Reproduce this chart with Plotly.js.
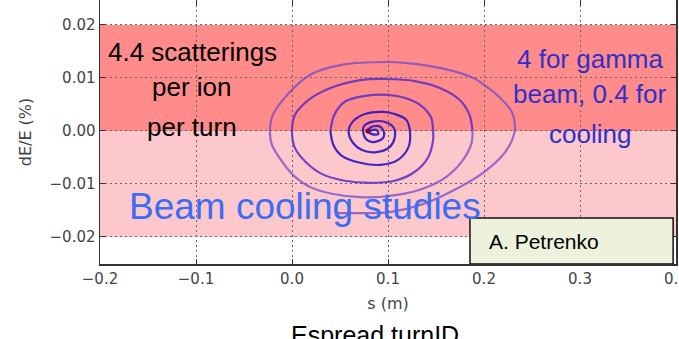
<!DOCTYPE html>
<html>
<head>
<meta charset="utf-8">
<script src="https://cdn.plot.ly/plotly-3.0.1.min.js"></script>
<style>html,body{margin:0;padding:0;background:#fff;overflow:hidden}#chart{width:679px;height:339px}</style>
</head>
<body>
<div id="chart"></div>
<script>
// Phase-space trajectory: s (m) and dE/E (%)
const sValues = [
  0.045, 0.071, 0.102, 0.133, 0.165, 0.199, 0.222, 0.232,
  0.229, 0.217, 0.203, 0.189, 0.154, 0.120, 0.100, 0.053, 0.019, -0.005, -0.020, -0.023,
  -0.021, -0.013, 0.001, 0.019, 0.043, 0.071, 0.100, 0.133, 0.159, 0.178, 0.187, 0.188,
  0.185, 0.175, 0.154, 0.128, 0.100, 0.071, 0.040, 0.017, 0.003, 0.000,
  0.003, 0.014, 0.031, 0.055, 0.081, 0.107, 0.128, 0.142, 0.147, 0.147,
  0.145, 0.135, 0.118, 0.100, 0.076, 0.055, 0.044, 0.040,
  0.043, 0.052, 0.071, 0.092, 0.110, 0.121, 0.123,
  0.119, 0.107, 0.095, 0.076, 0.064, 0.059,
  0.063, 0.073, 0.088, 0.102, 0.107, 0.106, 0.097, 0.083, 0.075, 0.074,
  0.077, 0.084, 0.094, 0.096, 0.092, 0.083, 0.079, 0.083, 0.090, 0.088, 0.081
];
const dEValues = [
  -0.0155, -0.0155, -0.0153, -0.0140, -0.0115, -0.0079, -0.0040, 0.0000,
  0.0036, 0.0062, 0.0083, 0.0100, 0.0119, 0.0128, 0.0130, 0.0125, 0.0106, 0.0068, 0.0030, 0.0000,
  -0.0026, -0.0051, -0.0083, -0.0106, -0.0119, -0.0125, -0.0123, -0.0111, -0.0089, -0.0055, -0.0023, 0.0000,
  0.0030, 0.0058, 0.0081, 0.0094, 0.0098, 0.0096, 0.0081, 0.0058, 0.0030, 0.0000,
  -0.0032, -0.0058, -0.0081, -0.0094, -0.0098, -0.0094, -0.0077, -0.0049, -0.0017, 0.0000,
  0.0025, 0.0047, 0.0062, 0.0068, 0.0066, 0.0055, 0.0030, 0.0000,
  -0.0026, -0.0047, -0.0060, -0.0064, -0.0055, -0.0032, -0.0004,
  0.0021, 0.0032, 0.0036, 0.0032, 0.0019, 0.0000,
  -0.0021, -0.0036, -0.0040, -0.0030, -0.0013, 0.0006, 0.0017, 0.0017, 0.0009, 0.0000,
  -0.0015, -0.0021, -0.0015, -0.0004, 0.0008, 0.0008, 0.0000, -0.0006, -0.0006, 0.0002, 0.0000
];
const centerS = [0.079];
const centerDE = [0.0];

const xTicks = [-0.2, -0.1, 0.0, 0.1, 0.2, 0.3, 0.4];
const yTicks = [-0.02, -0.01, 0.00, 0.01, 0.02];

const bandHeating = [0.0, 0.02];
const bandCooling = [-0.02, 0.0];

const leftLines = ['4.4 scatterings', 'per ion', 'per turn'];
const leftLineY = [0.0148, 0.0082, 0.0007];
const rightLines = ['4 for gamma', 'beam, 0.4 for', 'cooling'];
const rightLineY = [0.0136, 0.0069, -0.0005];

// split trajectory into segments, outer lighter, inner darker
const splits = [0, 31, 59, sValues.length - 1];
const segColors = ['rgba(118,72,200,0.75)', 'rgba(96,48,196,0.88)', 'rgba(56,28,192,0.95)'];
const traces = [];
for (let i = 0; i < 3; i++) {
  traces.push({
    x: sValues.slice(splits[i], splits[i + 1] + 1),
    y: dEValues.slice(splits[i], splits[i + 1] + 1),
    type: 'scatter', mode: 'lines',
    line: {color: segColors[i], width: 2.2, shape: 'spline', smoothing: 0.9},
    hoverinfo: 'skip', showlegend: false
  });
}
traces.push({
  x: centerS, y: centerDE, type: 'scatter', mode: 'markers',
  marker: {color: '#7a0a2a', size: 5}, showlegend: false, hoverinfo: 'skip'
});

const tickFont = {family: 'DejaVu Sans', size: 15, color: '#444'};
const titleFont = {family: 'DejaVu Sans', size: 16, color: '#444'};
const axisCommon = {
  showgrid: true, gridcolor: '#666', griddash: '2px,3px', gridwidth: 1,
  zeroline: false, showline: true, linecolor: '#333', linewidth: 1.5,
  mirror: 'ticks', ticks: 'inside', ticklen: 5, tickwidth: 1, tickcolor: '#333',
  tickfont: tickFont, automargin: false, ticklabeloverflow: 'allow'
};

const annotations = [];
leftLines.forEach((t, i) => annotations.push({
  x: -0.104, y: leftLineY[i], xref: 'x', yref: 'y', text: t, showarrow: false,
  xanchor: 'center', yanchor: 'middle',
  font: {family: 'Liberation Sans, Arial', size: 26, color: '#000'}
}));
rightLines.forEach((t, i) => annotations.push({
  x: 0.31, y: rightLineY[i], xref: 'x', yref: 'y', text: t, showarrow: false,
  xanchor: 'center', yanchor: 'middle',
  font: {family: 'Liberation Sans, Arial', size: 26, color: '#3030c8'}
}));
annotations.push({
  x: 0.014, y: -0.0142, xref: 'x', yref: 'y', text: 'Beam cooling studies', showarrow: false,
  xanchor: 'center', yanchor: 'middle',
  font: {family: 'Liberation Sans, Arial', size: 37, color: '#3d6cf5'}
});
annotations.push({
  x: 0.263, y: -0.0208, xref: 'x', yref: 'y', text: 'A. Petrenko', showarrow: false,
  xanchor: 'center', yanchor: 'middle',
  font: {family: 'Liberation Sans, Arial', size: 21, color: '#000'}
});
annotations.push({
  x: 0.478, y: -0.27, xref: 'paper', yref: 'paper', text: 'Espread.turnID', showarrow: false,
  xanchor: 'center', yanchor: 'middle',
  font: {family: 'Liberation Sans, Arial', size: 25, color: '#000'}
});

const layout = {
  width: 679, height: 339,
  margin: {l: 100, r: 3, t: 0, b: 75, pad: 0},
  paper_bgcolor: '#fff', plot_bgcolor: '#fff',
  showlegend: false,
  xaxis: Object.assign({}, axisCommon, {
    range: [-0.2, 0.4], tickvals: xTicks, tickformat: '.1f',
    title: {text: 's (m)', font: titleFont, standoff: 11}
  }),
  yaxis: Object.assign({}, axisCommon, {
    range: [-0.0251, 0.0247], tickvals: yTicks, tickformat: '.2f',
    title: {text: 'dE/E (%)', font: titleFont, standoff: 14}
  }),
  shapes: [
    {type: 'rect', xref: 'paper', yref: 'y', x0: 0, x1: 1, y0: bandHeating[0], y1: bandHeating[1],
     fillcolor: '#ff8b8b', line: {width: 0}, layer: 'below'},
    {type: 'rect', xref: 'paper', yref: 'y', x0: 0, x1: 1, y0: bandCooling[0], y1: bandCooling[1],
     fillcolor: '#fcc8cc', line: {width: 0}, layer: 'below'},
    {type: 'rect', xref: 'x', yref: 'y', x0: 0.1854, x1: 0.397, y0: -0.0251, y1: -0.0164,
     fillcolor: '#eef1dc', line: {color: '#111', width: 1.5}, layer: 'above'}
  ],
  annotations: annotations
};

Plotly.newPlot('chart', traces, layout, {staticPlot: true, displayModeBar: false});
</script>
</body>
</html>
